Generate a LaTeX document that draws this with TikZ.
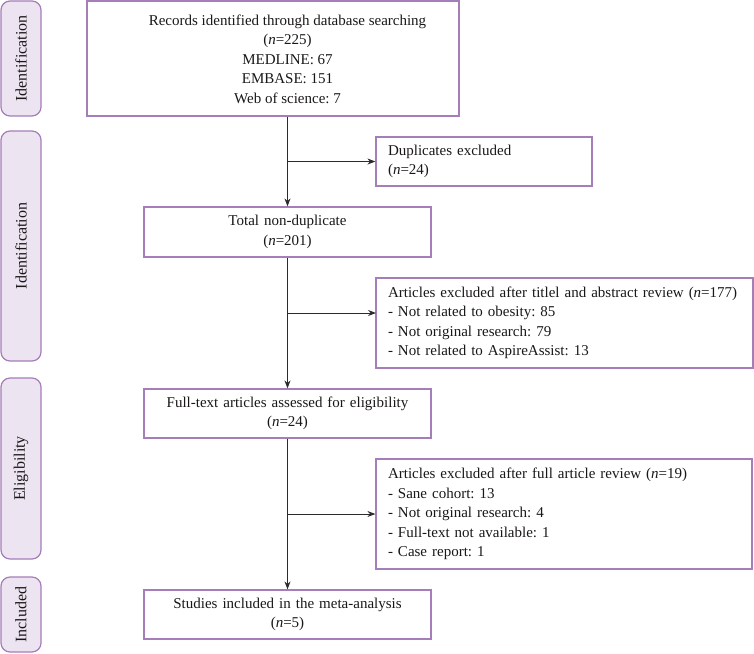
\documentclass[tikz,border=0pt]{standalone}
\usepackage{fontspec}
\setmainfont{Liberation Serif}
\usepackage{xcolor}
\usetikzlibrary{arrows.meta, calc}

\definecolor{boxline}{HTML}{A47DB9}
\definecolor{sidefill}{HTML}{EDE4F2}
\definecolor{arrowline}{HTML}{2B2B2B}
\definecolor{textcol}{HTML}{1A1718}

\tikzset{
  sidebox/.style={shape=rectangle, rounded corners=9pt, draw=boxline, fill=sidefill, line width=1.2pt, rotate=90, minimum height=40pt, inner sep=0pt, text=textcol, font=\fontsize{16}{18}\selectfont},
  mainbox/.style={shape=rectangle, draw=boxline, line width=1.2pt, text width=263pt, inner xsep=12pt, align=center, text=textcol, font=\fontsize{15}{19.5}\selectfont},
  exclbox/.style={shape=rectangle, draw=boxline, line width=1.2pt, inner xsep=12pt, align=left, text=textcol, font=\fontsize{15}{19.5}\selectfont},
  flow/.style={-{Stealth[length=8pt,width=6pt]}, line width=1pt, draw=arrowline},
}

\begin{document}
\frenchspacing
\begin{tikzpicture}[x=1pt, y=-1pt]
\useasboundingbox (0,0) rectangle (754,653);

\node (sideA) [sidebox, minimum width=115pt] at (21,58.5) {Identification};
\node (sideB) [sidebox, minimum width=230pt] at (21,246) {Identification};
\node (sideC) [sidebox, minimum width=181pt] at (21,468.5) {Eligibility};
\node (sideD) [sidebox, minimum width=75pt] at (21,614.5) {Included};

\node (rec) [mainbox, minimum width=372pt, minimum height=115pt] at (273,58.5) {};
\node (recText) [align=center, text=textcol, font=\fontsize{15}{19.5}\selectfont] at (287.5,59) {Records identified through database searching\\(\textit{n}=225)\\MEDLINE: 67\\EMBASE: 151\\Web of science: 7};

\node (dup) [exclbox, text width=192pt, minimum height=49pt] at (484,161.5) {Duplicates excluded\\(\textit{n}=24)};
\node (tot) [mainbox, minimum height=50pt] at (287.5,232) {Total non-duplicate\\(\textit{n}=201)};
\node (art1) [exclbox, text width=353pt, minimum height=90pt] at (564.5,323) {Articles excluded after titlel and abstract review (\textit{n}=177)\\- Not related to obesity: 85\\- Not original research: 79\\- Not related to AspireAssist: 13};
\node (full) [mainbox, minimum height=49pt] at (287.5,413.5) {Full-text articles assessed for eligibility\\(\textit{n}=24)};
\node (art2) [exclbox, text width=352pt, minimum height=110pt] at (564,514) {Articles excluded after full article review (\textit{n}=19)\\- Sane cohort: 13\\- Not original research: 4\\- Full-text not available: 1\\- Case report: 1};
\node (stu) [mainbox, minimum height=49pt] at (287.5,614.5) {Studies included in the meta-analysis\\(\textit{n}=5)};

\coordinate (artIn) at (376,313);

\draw[flow] (tot.north |- rec.south) -- (tot.north);
\draw[flow] (dup.west -| tot.north) -- (dup.west);
\draw[flow] (tot.south) -- (full.north);
\draw[flow] (artIn -| tot.south) -- (artIn);
\draw[flow] (full.south) -- (stu.north);
\draw[flow] (art2.west -| full.south) -- (art2.west);

\end{tikzpicture}
\end{document}
